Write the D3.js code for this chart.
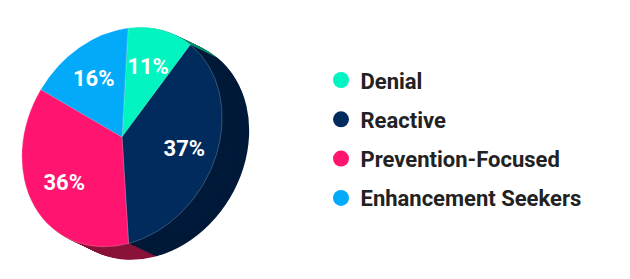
<!DOCTYPE html>
<html>
<head>
<meta charset="utf-8">
<script src="https://cdn.jsdelivr.net/npm/d3@7"></script>
<style>
  body { margin: 0; background: #fff; }
  svg { display: block; font-family: Roboto, "Noto Sans", sans-serif; }
</style>
</head>
<body>
<svg id="chart" width="630" height="279"></svg>
<script>
const categories = ["Denial", "Reactive", "Prevention-Focused", "Enhancement Seekers"];
const values = [11, 37, 36, 16];
const colors = ["#02f5c1", "#012b5d", "#ff1470", "#03aafa"];
const sideColors = ["#0a8a68", "#011a39", "#8a1339", "#0272a8"];

const cx = 122, cy = 137;
const radius = 100;
// tilt of the face: unit circle -> slightly sheared ellipse
const tilt = [1.0, -0.13, -0.06, 1.09];
const depth = { x: 27, y: 13 };
const steps = 30;

const svg = d3.select("#chart");

const pie = d3.pie()
    .sort(null)
    .value(d => d);

const slices = pie(values);

const arc = d3.arc()
    .innerRadius(0)
    .outerRadius(radius);

const faceTransform = (dx, dy) => `matrix(${tilt.join(",")},${cx + dx},${cy + dy})`;
const project = ([x, y]) => [cx + tilt[0] * x + tilt[2] * y, cy + tilt[1] * x + tilt[3] * y];

// side wall: stacked darker copies of the pie along the depth vector
for (let i = steps; i >= 1; i--) {
    const t = i / steps;
    svg.append("g")
        .attr("transform", faceTransform(depth.x * t, depth.y * t))
        .selectAll("path")
        .data(slices)
        .enter().append("path")
        .attr("d", arc)
        .attr("fill", (d, j) => sideColors[j]);
}

// top face
svg.append("g")
    .attr("transform", faceTransform(0, 0))
    .selectAll("path")
    .data(slices)
    .enter().append("path")
    .attr("d", arc)
    .attr("fill", (d, j) => colors[j])
    .attr("stroke", "rgba(255,255,255,0.35)")
    .attr("stroke-width", 0.6)
    .attr("vector-effect", "non-scaling-stroke");

// percent labels
const labelArc = d3.arc().innerRadius(radius * 0.66).outerRadius(radius * 0.66);
svg.append("g")
    .selectAll("text")
    .data(slices)
    .enter().append("text")
    .attr("x", d => project(labelArc.centroid(d))[0])
    .attr("y", d => project(labelArc.centroid(d))[1])
    .attr("text-anchor", "middle")
    .attr("dominant-baseline", "central")
    .attr("fill", "#fff")
    .attr("font-size", 22)
    .attr("font-weight", 700)
    .text(d => `${d.data}%`);

// legend
const legend = svg.append("g")
    .selectAll("g")
    .data(categories)
    .enter().append("g")
    .attr("transform", (d, i) => `translate(341, ${80 + i * 39.3})`);

legend.append("circle")
    .attr("r", 8)
    .attr("fill", (d, i) => colors[i]);

legend.append("text")
    .attr("x", 19.5)
    .attr("y", 1)
    .attr("dominant-baseline", "central")
    .attr("fill", "#222")
    .attr("font-size", 22)
    .attr("font-weight", 700)
    .text(d => d);
</script>
</body>
</html>
